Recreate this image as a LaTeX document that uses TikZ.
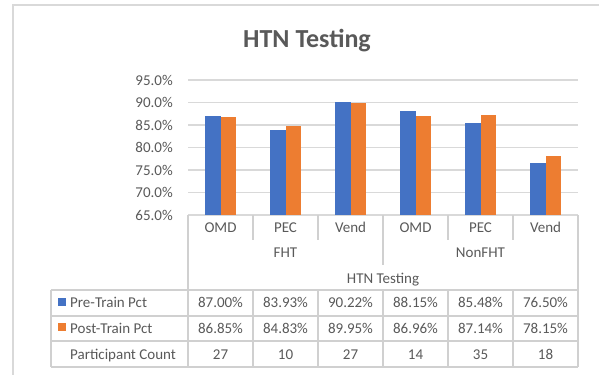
\documentclass[tikz,border=0pt]{standalone}
\usepackage{fontspec}
\setmainfont{Carlito}
\definecolor{txtgray}{HTML}{595959}
\definecolor{gridgray}{HTML}{D9D9D9}
\definecolor{tblgray}{HTML}{D0D0D0}
\definecolor{barblue}{HTML}{4472C4}
\definecolor{barorange}{HTML}{ED7D31}
\begin{document}
\begin{tikzpicture}[x=1pt,y=-1pt,
  lbl/.style={text=txtgray,font=\fontsize{15}{18}\selectfont,inner sep=0pt,anchor=base},
  ticklbl/.style={lbl,anchor=base east},
  gridline/.style={draw=gridgray,line width=1.3pt},
  tblline/.style={draw=tblgray,line width=1.2pt},
  framel/.style={draw=gridgray,line width=1.5pt},
  prebar/.style={fill=barblue},
  postbar/.style={fill=barorange}]
\useasboundingbox (0,0) rectangle (599,375);
% outer frame (only top and left visible)
\draw[framel] (599,5) -- (13,5) -- (13,375);
% title
\node[text=txtgray,font=\fontsize{26}{30}\selectfont\bfseries,inner sep=0pt,anchor=base] (title) at (307,47) {HTN Testing};
% gridlines and tick labels
\foreach \v [count=\i] in {95,90,85,80,75,70,65} {
  \pgfmathsetmacro{\yy}{215-(\v-65)*4.5}
  \draw[gridline] (188,\yy) -- (578,\yy);
  \node[ticklbl] (tick\i) at (173,\yy+5) {\v.0\%};
}
% bars
\foreach \pre/\post [count=\c from 0] in {87.00/86.85,83.93/84.83,90.22/89.95,88.15/86.96,85.48/87.14,76.50/78.15} {
  \pgfmathsetmacro{\cx}{188+65*\c+32.5}
  \pgfmathsetmacro{\ya}{215-(\pre-65)*4.5}
  \pgfmathsetmacro{\yb}{215-(\post-65)*4.5}
  \fill[prebar] (\cx-15.3,\ya) rectangle (\cx,215);
  \fill[postbar] (\cx,\yb) rectangle (\cx+15.3,215);
}
% category axis lines
\draw[tblline] (188,215) -- (188,367);
\draw[tblline] (578,215) -- (578,367);
\draw[tblline] (253,215) -- (253,240);
\draw[tblline] (318,215) -- (318,240);
\draw[tblline] (448,215) -- (448,240);
\draw[tblline] (513,215) -- (513,240);
\draw[tblline] (383,215) -- (383,265);
% category labels
\foreach \t [count=\c from 0] in {OMD,PEC,Vend,OMD,PEC,Vend} {
  \node[lbl] (cat\c) at (188+65*\c+32.5,232.3) {\t};
}
\node[lbl] (grpA) at (285.5,257) {FHT};
\node[lbl] (grpB) at (480.5,257) {NonFHT};
\node[lbl] (axtitle) at (383,283) {HTN Testing};
% data table grid
\foreach \yy in {290,316,341,367} { \draw[tblline] (51,\yy) -- (578,\yy); }
\draw[tblline] (51,290) -- (51,367);
\foreach \xx in {253,318,383,448,513} { \draw[tblline] (\xx,290) -- (\xx,367); }
% legend keys and row labels
\fill[barblue] (57.7,297.7) rectangle (65.7,305.7);
\fill[barorange] (57.7,323.2) rectangle (65.7,331.2);
\node[lbl,anchor=base west] (rowA) at (70,307.5) {Pre-Train Pct};
\node[lbl,anchor=base west] (rowB) at (70,333.5) {Post-Train Pct};
\node[lbl,anchor=base west] (rowC) at (70,359.5) {Participant Count};
% table values
\foreach \a/\b/\n [count=\c from 0] in {87.00/86.85/27,83.93/84.83/10,90.22/89.95/27,88.15/86.96/14,85.48/87.14/35,76.50/78.15/18} {
  \node[lbl] (pre\c) at (188+65*\c+32.5,307.5) {\a\%};
  \node[lbl] (post\c) at (188+65*\c+32.5,333.5) {\b\%};
  \node[lbl] (cnt\c) at (188+65*\c+32.5,359.5) {\n};
}
\end{tikzpicture}
\end{document}
